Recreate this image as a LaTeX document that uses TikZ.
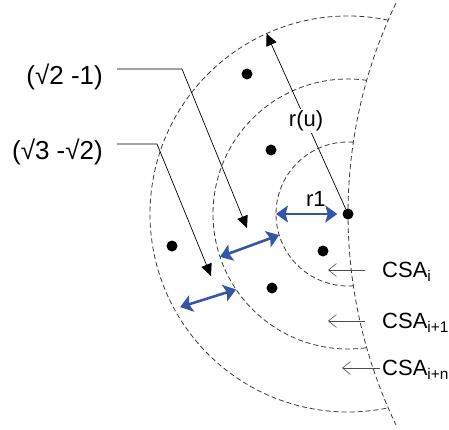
\documentclass[tikz,border=0pt]{standalone}
\usepackage{fontspec}
\setmainfont{Liberation Sans}
\usetikzlibrary{arrows.meta,calc,positioning}
\definecolor{GapBlue}{HTML}{3556A8}
\definecolor{RingGray}{HTML}{3A3A3A}

\tikzset{
  ring/.style={dash pattern=on 5pt off 3pt, line width=0.8pt, RingGray},
  dot/.style={circle, fill=black, inner sep=0pt, minimum size=11pt},
  gap/.style={<->, >={Stealth[length=12pt,width=17pt,inset=2.5pt]}, line width=2.6pt, GapBlue},
  pointer/.style={-{Triangle[length=12pt,width=11pt]}, line width=0.7pt},
  csaptr/.style={-{Straight Barb[length=8pt,width=13pt]}, line width=0.6pt, black!70},
  biglabel/.style={font=\fontsize{26}{31}\selectfont, anchor=east, inner sep=0pt},
  csalabel/.style={font=\fontsize{22}{26}\selectfont, anchor=base west, inner sep=0pt},
}

\begin{document}
\begin{tikzpicture}[x=1pt, y=1pt]
    \useasboundingbox (0,0) rectangle (449,429);

    % Centre of the rings and of the boundary
    \coordinate (C) at (348,215);
    \coordinate (B) at (836,215);

    % Rings
    \draw[ring] ($(C)+(85.8:72)$) arc[start angle=85.8, end angle=274.2, radius=72];
    \draw[ring] ($(C)+(82.0:135)$) arc[start angle=82.0, end angle=278.0, radius=135];
    \draw[ring] ($(C)+(78.3:198)$) arc[start angle=78.3, end angle=281.7, radius=198];

    % Boundary
    \draw[ring] ($(B)+(154.4:488)$) arc[start angle=154.4, end angle=205.6, radius=488];

    % Points
    \node[dot] (p0) at (C) {};
    \node[dot] (p1) at (247,355) {};
    \node[dot] (p2) at (271,279) {};
    \node[dot] (p3) at (172,183) {};
    \node[dot] (p4) at (323,178) {};
    \node[dot] (p5) at (272,141) {};

    % Radius r(u)
    \coordinate (ru) at ($(C)+(114.3:198)$);
    \draw[pointer] (p0) -- node[fill=white, inner sep=2pt, font=\fontsize{22}{26}\selectfont] (rulbl) {r(u)} (ru);

    % Radius r1
    \coordinate (r1a) at ($(C)+(180:72)$);
    \draw[gap, shorten >=5pt] (r1a) -- node[pos=0.6, above=3pt, black, font=\fontsize{22}{26}\selectfont] (r1lbl) {r1} (p0);

    % Ring widths
    \coordinate (g2a) at ($(C)+(198.5:135)$);
    \coordinate (g2b) at ($(C)+(197:72)$);
    \draw[gap] (g2a) -- (g2b);
    \coordinate (g3a) at ($(C)+(209:192)$);
    \coordinate (g3b) at ($(C)+(214:135)$);
    \draw[gap] (g3a) -- (g3b);

    % Width labels
    \node[biglabel] (lsqtwo) at (103,352) {(√2 -1)};
    \coordinate (k1) at (182,360);
    \coordinate (t1) at (247,201);
    \draw[pointer] ($(lsqtwo.east)+(14,8)$) -- (k1) -- (t1);

    \node[biglabel] (lsqthree) at (103,277) {(√3 -√2)};
    \coordinate (k2) at (157,285);
    \coordinate (t2) at (211,153);
    \draw[pointer] ($(lsqthree.east)+(14,8)$) -- (k2) -- (t2);

    % CSA labels
    \node[csalabel] (csa0) at (382,152) {CSA\textsubscript{i}};
    \node[csalabel] (csa1) at (382,101) {CSA\textsubscript{i+1}};
    \node[csalabel] (csa2) at (382,54) {CSA\textsubscript{i+n}};
    \coordinate (a0) at (328,159);
    \coordinate (a1) at (328,108);
    \coordinate (a2) at (342,61);
    \draw[csaptr] ($(csa0.base west)+(-17,7)$) -- (a0);
    \draw[csaptr] ($(csa1.base west)+(-17,7)$) -- (a1);
    \draw[csaptr] ($(csa2.base west)+(-2,7)$) -- (a2);

\end{tikzpicture}
\end{document}
